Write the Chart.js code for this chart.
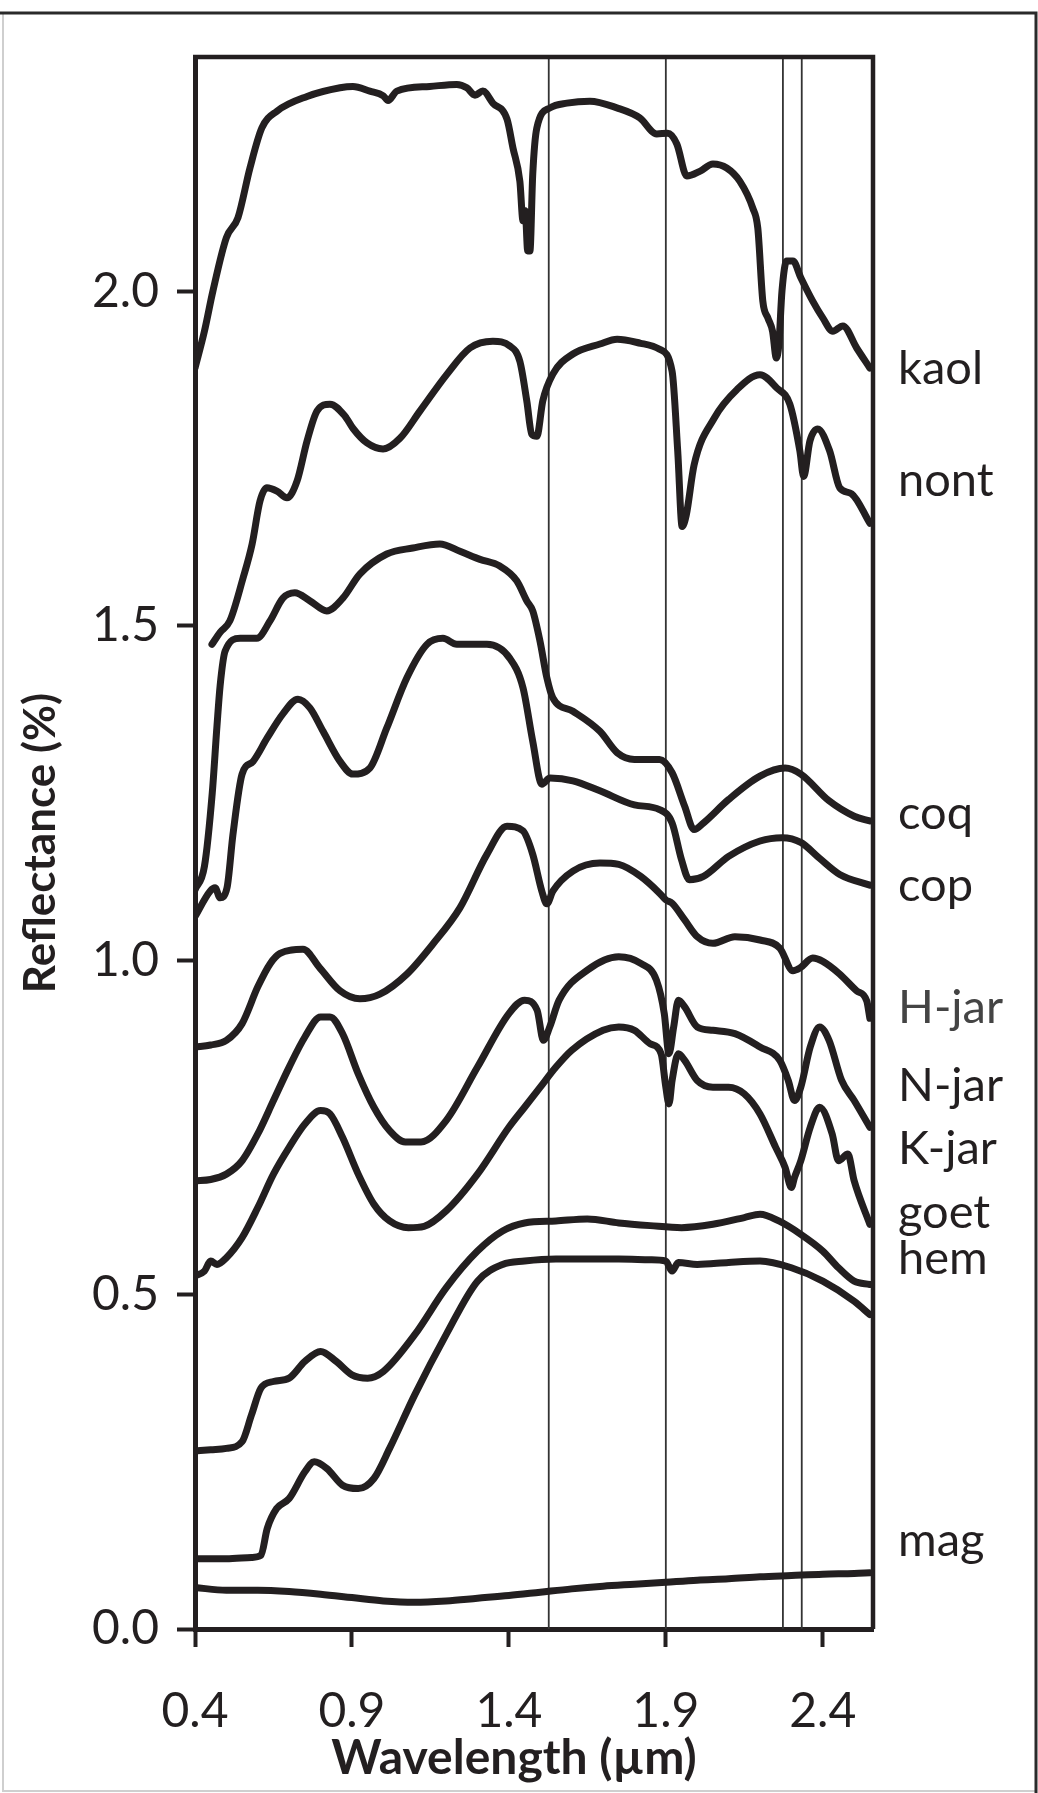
<!DOCTYPE html>
<html>
<head>
<meta charset="utf-8">
<script src="https://cdn.jsdelivr.net/npm/chart.js@4.4.1/dist/chart.umd.min.js"></script>
<style>
  html, body { margin: 0; padding: 0; background: #fff; }
  #wrap { width: 1038px; height: 1793px; }
</style>
</head>
<body>
<div id="wrap"><canvas id="spectra" width="1038" height="1793"></canvas></div>
<script>
// reflectance spectra, [wavelength µm, reflectance], stacked with offsets
const kaol = [[0.4,1.885],[0.43,1.94],[0.457,2.0],[0.5,2.08],[0.537,2.11],[0.575,2.184],[0.613,2.244],[0.661,2.269],[0.757,2.291],[0.862,2.304],[0.903,2.306],[0.957,2.299],[1.0,2.292],[1.015,2.285],[1.043,2.299],[1.148,2.306],[1.234,2.309],[1.266,2.304],[1.292,2.293],[1.317,2.299],[1.349,2.281],[1.394,2.257],[1.413,2.214],[1.435,2.164],[1.445,2.105],[1.452,2.12],[1.46,2.06],[1.467,2.06],[1.476,2.175],[1.489,2.244],[1.531,2.274],[1.585,2.281],[1.658,2.284],[1.744,2.274],[1.817,2.259],[1.871,2.235],[1.906,2.236],[1.935,2.22],[1.967,2.172],[2.008,2.179],[2.05,2.19],[2.094,2.184],[2.136,2.164],[2.177,2.124],[2.193,2.094],[2.209,1.985],[2.225,1.96],[2.24,1.94],[2.252,1.9],[2.26,1.92],[2.27,2.0],[2.285,2.045],[2.305,2.045],[2.33,2.02],[2.368,1.985],[2.40,1.96],[2.432,1.94],[2.464,1.948],[2.508,1.915],[2.55,1.885]];
const nont = [[0.454,1.472],[0.48,1.49],[0.511,1.507],[0.553,1.571],[0.582,1.622],[0.607,1.686],[0.629,1.706],[0.661,1.701],[0.693,1.691],[0.725,1.716],[0.757,1.776],[0.789,1.821],[0.83,1.831],[0.878,1.813],[0.903,1.795],[0.948,1.773],[0.999,1.764],[1.053,1.78],[1.117,1.821],[1.203,1.876],[1.276,1.915],[1.349,1.925],[1.403,1.918],[1.435,1.895],[1.457,1.836],[1.473,1.786],[1.489,1.783],[1.508,1.836],[1.54,1.876],[1.604,1.906],[1.69,1.921],[1.745,1.928],[1.82,1.922],[1.88,1.913],[1.92,1.88],[1.938,1.76],[1.952,1.648],[1.965,1.665],[1.99,1.74],[2.054,1.81],[2.127,1.853],[2.2,1.875],[2.254,1.855],[2.295,1.831],[2.327,1.761],[2.339,1.723],[2.359,1.776],[2.384,1.794],[2.422,1.761],[2.454,1.706],[2.492,1.697],[2.55,1.653]];
const coq = [[0.4,1.105],[0.43,1.14],[0.455,1.25],[0.47,1.35],[0.48,1.41],[0.496,1.462],[0.544,1.481],[0.597,1.481],[0.639,1.507],[0.68,1.541],[0.718,1.549],[0.766,1.537],[0.82,1.522],[0.871,1.541],[0.925,1.577],[1.011,1.607],[1.094,1.616],[1.18,1.622],[1.244,1.611],[1.308,1.599],[1.371,1.589],[1.425,1.567],[1.457,1.537],[1.476,1.522],[1.499,1.477],[1.521,1.422],[1.54,1.392],[1.604,1.372],[1.69,1.342],[1.745,1.31],[1.8,1.3],[1.88,1.3],[1.92,1.28],[1.96,1.23],[1.99,1.195],[2.02,1.205],[2.1,1.24],[2.2,1.275],[2.28,1.287],[2.33,1.278],[2.42,1.238],[2.5,1.215],[2.55,1.208]];
const cop = [[0.4,1.065],[0.448,1.103],[0.464,1.108],[0.48,1.093],[0.502,1.108],[0.521,1.188],[0.55,1.278],[0.585,1.297],[0.63,1.332],[0.68,1.368],[0.728,1.39],[0.766,1.377],[0.808,1.342],[0.862,1.297],[0.903,1.278],[0.957,1.287],[1.011,1.347],[1.075,1.422],[1.139,1.472],[1.19,1.481],[1.234,1.472],[1.33,1.472],[1.403,1.451],[1.445,1.407],[1.476,1.327],[1.505,1.263],[1.531,1.272],[1.604,1.268],[1.69,1.253],[1.8,1.232],[1.88,1.225],[1.92,1.205],[1.95,1.15],[1.975,1.12],[2.02,1.125],[2.1,1.155],[2.2,1.178],[2.27,1.183],[2.33,1.176],[2.39,1.152],[2.454,1.128],[2.55,1.112]];
const hJar = [[0.4,0.87],[0.45,0.873],[0.5,0.88],[0.55,0.905],[0.6,0.96],[0.64,0.995],[0.671,1.01],[0.744,1.016],[0.798,0.988],[0.862,0.954],[0.925,0.942],[0.989,0.949],[1.075,0.979],[1.158,1.024],[1.244,1.078],[1.33,1.158],[1.394,1.2],[1.445,1.193],[1.476,1.158],[1.505,1.103],[1.521,1.084],[1.54,1.103],[1.604,1.133],[1.69,1.145],[1.75,1.143],[1.82,1.125],[1.88,1.1],[1.9,1.09],[1.92,1.085],[1.96,1.06],[2.0,1.035],[2.05,1.025],[2.12,1.035],[2.2,1.03],[2.263,1.018],[2.305,0.984],[2.327,0.988],[2.368,1.003],[2.4,0.998],[2.454,0.979],[2.508,0.954],[2.54,0.939],[2.55,0.913]];
const nJar = [[0.4,0.67],[0.45,0.672],[0.5,0.68],[0.55,0.7],[0.6,0.74],[0.65,0.79],[0.7,0.84],[0.75,0.885],[0.8,0.915],[0.83,0.915],[0.87,0.89],[0.92,0.83],[0.97,0.78],[1.02,0.745],[1.07,0.728],[1.12,0.728],[1.2,0.76],[1.3,0.84],[1.4,0.92],[1.45,0.94],[1.49,0.925],[1.51,0.88],[1.53,0.9],[1.56,0.94],[1.65,0.985],[1.75,1.005],[1.82,0.995],[1.87,0.97],[1.895,0.92],[1.91,0.86],[1.925,0.9],[1.94,0.94],[1.96,0.93],[2.0,0.9],[2.05,0.895],[2.12,0.89],[2.2,0.87],[2.263,0.85],[2.29,0.82],[2.31,0.79],[2.33,0.81],[2.36,0.87],[2.39,0.9],[2.42,0.88],[2.46,0.82],[2.5,0.79],[2.55,0.75]];
const kJar = [[0.4,0.528],[0.43,0.535],[0.45,0.55],[0.47,0.545],[0.5,0.555],[0.55,0.585],[0.6,0.63],[0.65,0.68],[0.7,0.72],[0.75,0.755],[0.8,0.775],[0.83,0.77],[0.87,0.735],[0.92,0.68],[0.97,0.635],[1.02,0.61],[1.08,0.6],[1.13,0.602],[1.2,0.625],[1.3,0.68],[1.4,0.75],[1.45,0.78],[1.5,0.81],[1.55,0.84],[1.6,0.865],[1.7,0.895],[1.75,0.9],[1.8,0.895],[1.85,0.875],[1.885,0.86],[1.9,0.81],[1.91,0.785],[1.92,0.82],[1.94,0.86],[1.96,0.85],[2.0,0.82],[2.05,0.81],[2.1,0.81],[2.15,0.8],[2.2,0.77],[2.25,0.72],[2.28,0.69],[2.3,0.66],[2.31,0.675],[2.33,0.7],[2.36,0.75],[2.39,0.78],[2.43,0.74],[2.45,0.7],[2.48,0.71],[2.5,0.67],[2.55,0.605]];
const goet = [[0.4,0.266],[0.45,0.268],[0.5,0.27],[0.55,0.28],[0.58,0.32],[0.61,0.36],[0.65,0.37],[0.7,0.375],[0.75,0.4],[0.8,0.415],[0.85,0.4],[0.9,0.38],[0.95,0.375],[1.0,0.385],[1.1,0.44],[1.2,0.51],[1.3,0.565],[1.38,0.595],[1.45,0.607],[1.55,0.61],[1.65,0.613],[1.75,0.607],[1.85,0.603],[1.95,0.6],[2.05,0.605],[2.15,0.615],[2.2,0.62],[2.26,0.61],[2.33,0.59],[2.4,0.565],[2.45,0.54],[2.5,0.52],[2.55,0.515]];
const hem = [[0.4,0.105],[0.5,0.105],[0.58,0.107],[0.61,0.11],[0.63,0.15],[0.66,0.18],[0.7,0.195],[0.75,0.235],[0.78,0.25],[0.82,0.24],[0.87,0.215],[0.92,0.21],[0.97,0.225],[1.02,0.27],[1.1,0.35],[1.2,0.44],[1.3,0.52],[1.38,0.545],[1.45,0.55],[1.55,0.553],[1.65,0.553],[1.75,0.553],[1.85,0.552],[1.9,0.55],[1.92,0.535],[1.94,0.548],[2.0,0.545],[2.1,0.548],[2.2,0.55],[2.3,0.54],[2.4,0.52],[2.5,0.49],[2.55,0.47]];
const mag = [[0.4,0.062],[0.5,0.058],[0.6,0.058],[0.7,0.056],[0.8,0.052],[0.9,0.047],[1.0,0.042],[1.1,0.04],[1.2,0.042],[1.3,0.046],[1.4,0.05],[1.5,0.055],[1.6,0.06],[1.7,0.064],[1.8,0.067],[1.9,0.07],[2.0,0.073],[2.1,0.075],[2.2,0.078],[2.3,0.08],[2.4,0.082],[2.5,0.083],[2.55,0.084]];

// absorption features marked with thin verticals (µm)
const featureLines = [1.527, 1.9, 2.273, 2.333];

const xTicks = [0.4, 0.9, 1.4, 1.9, 2.4];
const yTicks = [0.0, 0.5, 1.0, 1.5, 2.0];

const INK = '#231f20';

// name, data, reflectance level of the label baseline, label colour
const series = [
  { name: 'kaol',  data: kaol, labelAt: 1.861, color: INK },
  { name: 'nont',  data: nont, labelAt: 1.694, color: INK },
  { name: 'coq',   data: coq,  labelAt: 1.196, color: INK },
  { name: 'cop',   data: cop,  labelAt: 1.088, color: INK },
  { name: 'H-jar', data: hJar, labelAt: 0.906, color: '#444' },
  { name: 'N-jar', data: nJar, labelAt: 0.789, color: INK },
  { name: 'K-jar', data: kJar, labelAt: 0.695, color: INK },
  { name: 'goet',  data: goet, labelAt: 0.600, color: INK },
  { name: 'hem',   data: hem,  labelAt: 0.531, color: INK },
  { name: 'mag',   data: mag,  labelAt: 0.109, color: INK }
];

const Y_MAX = 2.35;

const datasets = series.map(s => ({
  label: s.name,
  data: s.data.map(p => ({ x: p[0], y: p[1] })),
  borderColor: INK,
  borderWidth: 7,
  pointRadius: 0,
  fill: false,
  cubicInterpolationMode: 'monotone',
  borderJoinStyle: 'round',
  borderCapStyle: 'round',
  order: 0
}));

featureLines.forEach(v => {
  datasets.push({
    label: 'line ' + v,
    data: [{ x: v, y: 0 }, { x: v, y: Y_MAX }],
    borderColor: '#333',
    borderWidth: 1.8,
    pointRadius: 0,
    fill: false,
    order: 1
  });
});

// outer frame of the figure
const framePlugin = {
  id: 'frame',
  beforeDraw(chart) {
    const ctx = chart.ctx;
    ctx.save();
    ctx.fillStyle = '#fff';
    ctx.fillRect(0, 0, chart.width, chart.height);
    ctx.strokeStyle = '#cfcfcf';
    ctx.lineWidth = 2;
    ctx.beginPath();
    ctx.moveTo(3, 13);
    ctx.lineTo(3, 1791);
    ctx.lineTo(1036, 1791);
    ctx.stroke();
    ctx.strokeStyle = '#2a2a2a';
    ctx.lineWidth = 3;
    ctx.beginPath();
    ctx.moveTo(0, 13);
    ctx.lineTo(1036, 13);
    ctx.lineTo(1036, 1793);
    ctx.stroke();
    ctx.restore();
  }
};

// closes the plot box (top and right), writes the curve names and the x title
const boxLabelsPlugin = {
  id: 'boxLabels',
  afterDatasetsDraw(chart) {
    const { ctx, chartArea: a, scales } = chart;
    ctx.save();
    ctx.strokeStyle = INK;
    ctx.lineWidth = 4.5;
    ctx.beginPath();
    ctx.moveTo(a.left - 2, a.top);
    ctx.lineTo(a.right, a.top);
    ctx.lineTo(a.right, a.bottom);
    ctx.stroke();

    ctx.font = '47px Lato';
    ctx.textAlign = 'left';
    ctx.textBaseline = 'alphabetic';
    series.forEach(s => {
      ctx.fillStyle = s.color;
      ctx.fillText(s.name, a.right + 25, scales.y.getPixelForValue(s.labelAt));
    });

    // axis title sits a little left of the plot centre
    ctx.fillStyle = INK;
    ctx.font = 'bold 48px Lato';
    ctx.textAlign = 'center';
    ctx.textBaseline = 'middle';
    ctx.fillText('Wavelength (µm)', (a.left + a.right) / 2 - 20, scales.x.bottom - 34);
    ctx.restore();
  }
};

new Chart(document.getElementById('spectra'), {
  type: 'line',
  data: { datasets },
  options: {
    responsive: false,
    animation: false,
    devicePixelRatio: 1,
    layout: { padding: { top: 57, right: 165, left: 0, bottom: 0 } },
    plugins: { legend: { display: false }, tooltip: { enabled: false } },
    scales: {
      x: {
        type: 'linear',
        min: 0.4,
        max: 2.56,
        afterBuildTicks: s => { s.ticks = xTicks.map(v => ({ value: v })); },
        afterFit: s => { s.height = 164; },
        ticks: {
          callback: v => v.toFixed(1),
          font: { family: 'Lato', size: 48 },
          color: INK,
          padding: 36,
          maxRotation: 0
        },
        grid: { drawOnChartArea: false, drawTicks: true, tickLength: 18, tickWidth: 4, tickColor: INK },
        border: { display: true, width: 5, color: INK },
        title: { display: false }
      },
      y: {
        min: 0,
        max: Y_MAX,
        afterBuildTicks: s => { s.ticks = yTicks.map(v => ({ value: v })); },
        afterFit: s => { s.width = 195; },
        ticks: {
          callback: v => v.toFixed(1),
          font: { family: 'Lato', size: 48 },
          color: INK,
          padding: 18
        },
        grid: { drawOnChartArea: false, drawTicks: true, tickLength: 18, tickWidth: 4, tickColor: INK },
        border: { display: true, width: 5, color: INK },
        title: {
          display: true,
          text: 'Reflectance (%)',
          color: INK,
          font: { family: 'Lato', size: 44, weight: 'bold' },
          padding: { top: 14, bottom: 0 }
        }
      }
    }
  },
  plugins: [framePlugin, boxLabelsPlugin]
});
</script>
</body>
</html>
